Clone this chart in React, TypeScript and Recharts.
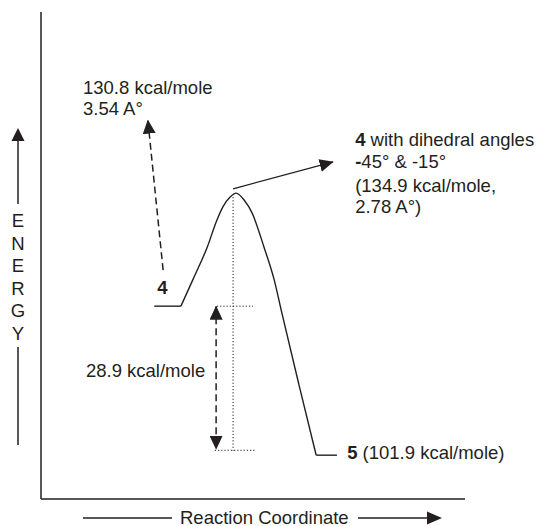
import React from 'react';
import { ComposedChart, Line, XAxis, YAxis, ReferenceLine, ReferenceDot } from 'recharts';

const INK = '#231f20';
const FONT = '"Liberation Sans", Arial, Helvetica, sans-serif';

// diagram units, not to scale: reaction coordinate 0-100, energy 0-100
const reactantLevel = [
  { x: 26.7, y: 39.6 },
  { x: 33.0, y: 39.6 },
];
const barrierCurve = [
  { x: 33.0, y: 39.6 },
  { x: 35.8, y: 45.0 },
  { x: 39.2, y: 51.7 },
  { x: 41.5, y: 57.3 },
  { x: 42.9, y: 60.0 },
  { x: 44.6, y: 62.0 },
  { x: 46.0, y: 62.8 },
  { x: 47.9, y: 61.4 },
  { x: 49.8, y: 58.7 },
  { x: 52.6, y: 51.7 },
  { x: 55.0, y: 45.0 },
  { x: 56.8, y: 38.2 },
  { x: 60.8, y: 23.6 },
  { x: 64.9, y: 9.0 },
];
const productLevel = [
  { x: 64.9, y: 9.0 },
  { x: 69.8, y: 9.0 },
];

// guides and arrows
const peakDrop = [{ x: 45.3, y: 62.0 }, { x: 45.3, y: 9.9 }];
const reactantGuide = [{ x: 41.5, y: 39.6 }, { x: 50.0, y: 39.6 }];
const productGuide = [{ x: 41.0, y: 10.0 }, { x: 50.5, y: 10.0 }];
const gapArrow = [{ x: 41.3, y: 39.6 }, { x: 41.3, y: 10.2 }];
const reactantArrow = [{ x: 28.8, y: 47.0 }, { x: 25.2, y: 77.8 }];
const peakArrow = [{ x: 45.3, y: 63.7 }, { x: 68.9, y: 69.2 }];

// annotation lines: bold head + plain text
const notes = [
  { x: 9.9, y: 83.2, head: '', text: '130.8 kcal/mole' },
  { x: 9.9, y: 78.9, head: '', text: '3.54 A°' },
  { x: 27.4, y: 42.1, head: '4', text: '' },
  { x: 10.6, y: 25.1, head: '', text: '28.9 kcal/mole' },
  { x: 74.1, y: 72.5, head: '4', text: ' with dihedral angles' },
  { x: 74.1, y: 67.9, head: '-', text: '45° & -15°' },
  { x: 74.1, y: 63.1, head: '', text: '(134.9 kcal/mole,' },
  { x: 74.1, y: 58.7, head: '', text: '2.78 A°)' },
  { x: 72.2, y: 8.2, head: '5', text: ' (101.9 kcal/mole)' },
];

const energyLetters = ['E', 'N', 'E', 'R', 'G', 'Y'];
const xTitle = 'Reaction Coordinate';

const EnergyLabel = (props: any) => {
  const vb = props.viewBox || { x: 0, y: 12 };
  const cx = vb.x + 18;
  return (
    <g>
      <line x1={cx} x2={cx} y1={vb.y + 128} y2={vb.y + 192} stroke={INK} strokeWidth={1.5} />
      <path d={`M${cx - 6.5},${vb.y + 129} L${cx},${vb.y + 116} L${cx + 6.5},${vb.y + 129} Z`} fill={INK} />
      {energyLetters.map((l, i) => (
        <text key={i} x={cx} y={vb.y + 215 + i * 22.6} textAnchor="middle" fontFamily={FONT} fontSize={18.5} fill={INK}>
          {l}
        </text>
      ))}
      <line x1={cx} x2={cx} y1={vb.y + 335} y2={vb.y + 433} stroke={INK} strokeWidth={1.5} />
    </g>
  );
};

const CoordLabel = (props: any) => {
  const vb = props.viewBox || { x: 41, y: 499 };
  const ly = vb.y + 19;
  return (
    <g>
      <line x1={vb.x + 42} x2={vb.x + 131} y1={ly} y2={ly} stroke={INK} strokeWidth={1.5} />
      <text x={vb.x + 139} y={vb.y + 24.5} fontFamily={FONT} fontSize={18.5} fill={INK}>{xTitle}</text>
      <line x1={vb.x + 317} x2={vb.x + 388} y1={ly} y2={ly} stroke={INK} strokeWidth={1.5} />
      <path d={`M${vb.x + 386},${ly - 6.5} L${vb.x + 401},${ly} L${vb.x + 386},${ly + 6.5} Z`} fill={INK} />
    </g>
  );
};

const NoteText = ({ cx, cy, head, text }: any) => (
  <text x={cx} y={cy} fontFamily={FONT} fontSize={18.5} fill={INK} style={{ whiteSpace: 'pre' }}>
    {head && <tspan fontWeight="bold">{head}</tspan>}
    {text && <tspan>{text}</tspan>}
  </text>
);

export default function App() {
  return (
    <div style={{ position: 'absolute', left: 0, top: 0, background: '#fff' }}>
      <ComposedChart width={537} height={526} margin={{ top: 12, right: 72, left: 0, bottom: 0 }}>
        <defs>
          <marker id="arrowHead" viewBox="0 0 14 13" markerWidth={14} markerHeight={13} refX={13.5} refY={6.5}
            orient="auto-start-reverse" markerUnits="userSpaceOnUse">
            <path d="M0,0 L14,6.5 L0,13 Z" fill={INK} />
          </marker>
        </defs>
        <XAxis type="number" dataKey="x" domain={[0, 100]} allowDataOverflow tick={false} tickLine={false}
          axisLine={{ stroke: INK, strokeWidth: 1.5 }} height={27} label={<CoordLabel />} />
        <YAxis type="number" dataKey="y" domain={[0, 100]} allowDataOverflow tick={false} tickLine={false}
          axisLine={{ stroke: INK, strokeWidth: 1.5 }} width={41} label={<EnergyLabel />} />

        <ReferenceLine segment={peakDrop} stroke={INK} strokeWidth={1} strokeDasharray="1.2 2" />
        <ReferenceLine segment={reactantGuide} stroke={INK} strokeWidth={1} strokeDasharray="1.2 2" />
        <ReferenceLine segment={productGuide} stroke={INK} strokeWidth={1} strokeDasharray="1.2 2" />
        <ReferenceLine segment={gapArrow} stroke={INK} strokeWidth={1.5} strokeDasharray="7 4"
          markerStart="url(#arrowHead)" markerEnd="url(#arrowHead)" />
        <ReferenceLine segment={reactantArrow} stroke={INK} strokeWidth={1.5} strokeDasharray="7 4"
          markerEnd="url(#arrowHead)" />
        <ReferenceLine segment={peakArrow} stroke={INK} strokeWidth={1.3} markerEnd="url(#arrowHead)" />

        <Line data={reactantLevel} dataKey="y" type="linear" stroke={INK} strokeWidth={1.4} dot={false} isAnimationActive={false} />
        <Line data={barrierCurve} dataKey="y" type="monotone" stroke={INK} strokeWidth={1.4} dot={false} isAnimationActive={false} />
        <Line data={productLevel} dataKey="y" type="linear" stroke={INK} strokeWidth={1.4} dot={false} isAnimationActive={false} />

        {notes.map((n, i) => (
          <ReferenceDot key={i} x={n.x} y={n.y} r={0}
            shape={(p: any) => <NoteText cx={p.cx} cy={p.cy} head={n.head} text={n.text} />} />
        ))}
      </ComposedChart>
    </div>
  );
}
